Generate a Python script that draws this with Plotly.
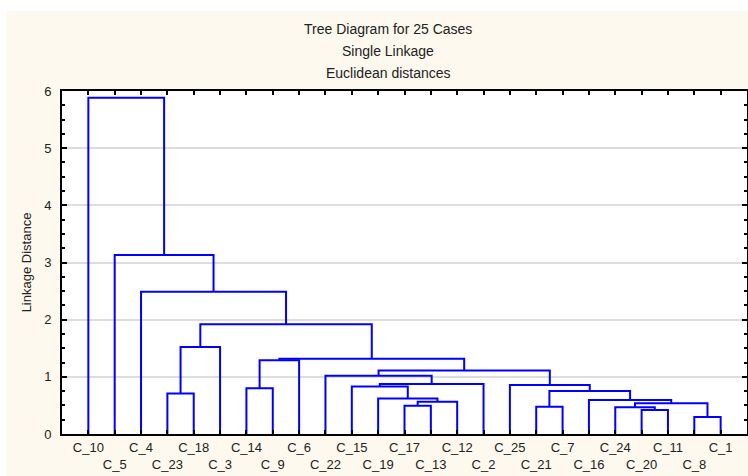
import plotly.graph_objects as go

# Leaves in dendrogram order (left to right)
leaf_labels = ["C_10", "C_5", "C_4", "C_23", "C_18", "C_3", "C_14", "C_9", "C_6",
               "C_22", "C_15", "C_19", "C_17", "C_13", "C_12", "C_2", "C_25",
               "C_21", "C_7", "C_16", "C_24", "C_20", "C_11", "C_8", "C_1"]

# Linkage table: children are leaf indices (0..24) or earlier clusters (25 + k)
merge_left = [23, 21, 20, 17, 12, 27, 29, 19, 11, 3, 28, 6,
              10, 16, 37, 9, 40, 36, 42, 34, 44, 2, 1, 0]
merge_right = [24, 22, 26, 18, 13, 25, 14, 30, 31, 4, 32, 7,
               33, 35, 15, 39, 38, 8, 41, 5, 43, 45, 46, 47]
merge_height = [0.297, 0.42, 0.466, 0.478, 0.495, 0.537, 0.565, 0.595, 0.62, 0.71,
                0.752, 0.80, 0.83, 0.857, 0.875, 1.02, 1.11, 1.29, 1.317, 1.52,
                1.92, 2.49, 3.13, 5.88]

n_leaves = len(leaf_labels)
node_x = {i: i + 1 for i in range(n_leaves)}
node_h = {i: 0.0 for i in range(n_leaves)}

xs, ys = [], []
for k, (a, b, h) in enumerate(zip(merge_left, merge_right, merge_height)):
    xa, xb = node_x[a], node_x[b]
    xs += [xa, xa, xb, xb, None]
    ys += [node_h[a], h, h, node_h[b], None]
    node_x[n_leaves + k] = (xa + xb) / 2
    node_h[n_leaves + k] = h

# Two staggered rows of case labels
tick_text = [lab if i % 2 == 0 else "<br>" + lab for i, lab in enumerate(leaf_labels)]

font_family = "Liberation Sans, Arial, sans-serif"
cream = "#FDF9EF"

fig = go.Figure()
fig.add_trace(go.Scatter(x=xs, y=ys, mode="lines",
                         line=dict(color="#0000FF", width=2),
                         hoverinfo="skip", showlegend=False))

# background panel and white plotting area
fig.add_shape(type="rect", xref="paper", yref="paper",
              x0=-0.081, x1=1.01, y0=-0.2, y1=1.233,
              fillcolor=cream, line=dict(width=0), layer="below")
fig.add_shape(type="rect", xref="paper", yref="paper",
              x0=0, x1=1, y0=0, y1=1,
              fillcolor="white", line=dict(width=0), layer="below")

titles = ["Tree Diagram for 25 Cases", "Single Linkage", "Euclidean distances"]
title_y = [1.181, 1.117, 1.052]
for t, yy in zip(titles, title_y):
    fig.add_annotation(text=t, x=0.476, y=yy, xref="paper", yref="paper",
                       showarrow=False, xanchor="center", yanchor="middle",
                       font=dict(family=font_family, size=14, color="#222222"))

fig.update_xaxes(range=[0, 26], tickmode="array",
                 tickvals=list(range(1, n_leaves + 1)), ticktext=tick_text,
                 tickangle=0,
                 ticks="inside", ticklen=4, tickwidth=2, tickcolor="black",
                 showline=True, linecolor="black", linewidth=2, mirror="ticks",
                 showgrid=False, zeroline=False,
                 tickfont=dict(family=font_family, size=13, color="#222222"))

fig.update_yaxes(range=[0, 6], tickmode="array", tickvals=[0, 1, 2, 3, 4, 5, 6],
                 ticks="inside", ticklen=5, tickwidth=2, tickcolor="black",
                 showline=True, linecolor="black", linewidth=2, mirror="ticks",
                 showgrid=True, gridcolor="#DDDDDD", gridwidth=1.5, zeroline=False,
                 minor=dict(dtick=0.25, ticks="inside", ticklen=3, tickwidth=2,
                            tickcolor="black", showgrid=False),
                 ticklabelstandoff=6,
                 title=dict(text="Linkage Distance", standoff=10,
                            font=dict(family=font_family, size=13, color="#222222")),
                 tickfont=dict(family=font_family, size=13, color="#222222"))

fig.update_layout(width=748, height=476,
                  margin=dict(l=62, r=1, t=91, b=42, autoexpand=False),
                  paper_bgcolor="white", plot_bgcolor="white",
                  font=dict(family=font_family, color="#222222"))

fig.write_html("out.html")
